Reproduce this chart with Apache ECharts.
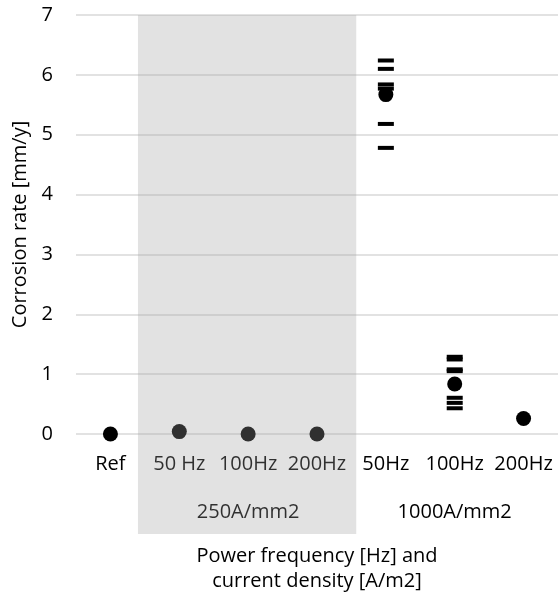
<!DOCTYPE html>
<html>
<head>
<meta charset="utf-8">
<title>Corrosion rate</title>
<script src="https://cdn.jsdelivr.net/npm/echarts@6/dist/echarts.min.js"></script>
<style>
  html, body { margin: 0; padding: 0; background: #fff; }
  #main { width: 558px; height: 603px; }
</style>
</head>
<body>
<div id="main"></div>
<script>
// categories on the x axis (frequency), and the current-density groups under them
var categories = ['Ref', '50 Hz', '100Hz', '200Hz', '50Hz', '100Hz', '200Hz'];
var groupLabels = ['', '', '250A/mm2', '', '', '1000A/mm2', ''];
var yTicks = [0, 1, 2, 3, 4, 5, 6, 7];

// mean corrosion rate per category [mm/y]
var meanRate = [0, 0.04, 0, 0, 5.67, 0.835, 0.26];

// single measurements, per category
var singleRate = [
  [],
  [],
  [],
  [],
  [6.24, 6.1, 5.84, 5.77, 5.18, 4.78],
  [1.29, 1.245, 1.08, 1.05, 0.605, 0.52, 0.43],
  []
];

var font = 'Open Sans';
var singlePoints = [];
singleRate.forEach(function (list, i) {
  list.forEach(function (v) { singlePoints.push([i, v]); });
});

var myChart = echarts.init(document.getElementById('main'));
var option = {
  backgroundColor: '#fff',
  animation: false,
  textStyle: { fontFamily: font },
  grid: { left: 76, right: 0, top: 15, bottom: 169 },
  xAxis: [{
    type: 'category',
    data: categories,
    axisLine: { show: false },
    axisTick: { show: false },
    axisLabel: { interval: 0, color: '#000', fontSize: 20, fontFamily: font, margin: 20 }
  }, {
    type: 'category',
    position: 'bottom',
    offset: 47,
    data: groupLabels,
    axisLine: { show: false },
    axisTick: { show: false },
    splitLine: { show: false },
    axisLabel: { interval: 0, color: '#000', fontSize: 20, fontFamily: font, margin: 21 },
    name: 'Power frequency [Hz] and\ncurrent density [A/m2]',
    nameLocation: 'middle',
    nameGap: 63,
    nameTextStyle: { color: '#000', fontSize: 20, fontFamily: font, lineHeight: 25 }
  }],
  yAxis: {
    type: 'value',
    min: yTicks[0],
    max: yTicks[yTicks.length - 1],
    interval: 1,
    axisLine: { show: false },
    axisTick: { show: false },
    splitLine: { lineStyle: { color: '#d9d9d9', width: 1.5 } },
    axisLabel: { color: '#000', fontSize: 20, fontFamily: font, margin: 23 },
    name: 'Corrosion rate [mm/y]',
    nameLocation: 'middle',
    nameGap: 46,
    nameTextStyle: { color: '#000', fontSize: 20, fontFamily: font }
  },
  series: [{
    name: 'single',
    type: 'scatter',
    symbol: 'rect',
    symbolSize: [16, 4],
    itemStyle: { color: '#000', opacity: 1 },
    data: singlePoints,
    z: 3
  }, {
    name: 'mean',
    type: 'scatter',
    symbol: 'circle',
    symbolSize: 15,
    itemStyle: { color: '#000', opacity: 1 },
    data: meanRate.map(function (v, i) { return [i, v]; }),
    z: 4
  }]
};
myChart.setOption(option);

// grey band over the 250A/mm2 group, drawn on top like in the original
function px(i) { return myChart.convertToPixel({ xAxisIndex: 0 }, i); }
var band = px(1) - px(0);
var x0 = (px(0) + px(1)) / 2 - band * 0.1;
var x1 = (px(3) + px(4)) / 2 + band * 0.07;
var yTop = myChart.convertToPixel({ yAxisIndex: 0 }, yTicks[yTicks.length - 1]);
var yBottom = myChart.convertToPixel({ yAxisIndex: 0 }, yTicks[0]) + 100;
myChart.setOption({
  graphic: [{
    type: 'rect',
    z: 100,
    silent: true,
    shape: { x: x0, y: yTop, width: x1 - x0, height: yBottom - yTop },
    style: { fill: 'rgba(160,160,160,0.3)' }
  }]
});
</script>
</body>
</html>
